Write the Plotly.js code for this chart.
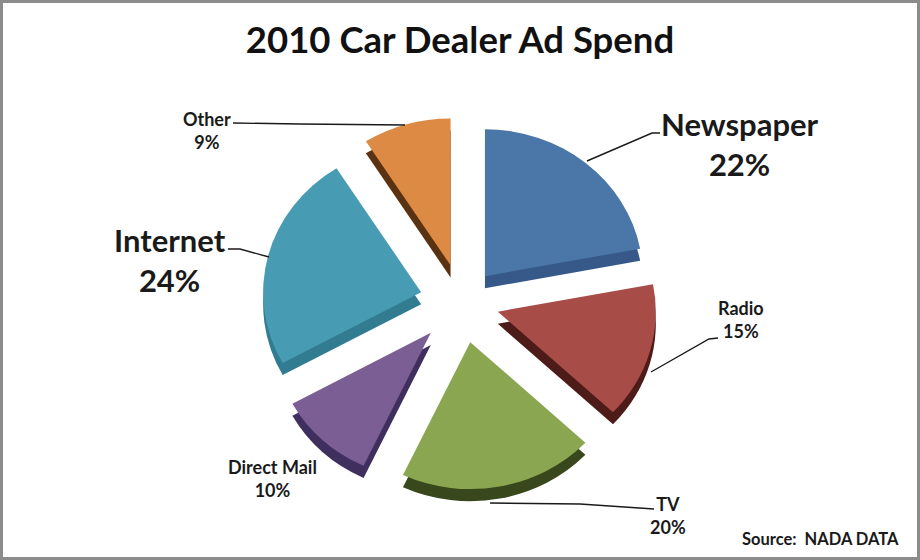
<!DOCTYPE html>
<html><head><meta charset="utf-8">
<script src="https://cdn.plot.ly/plotly-3.0.1.min.js"></script>
<style>html,body{margin:0;padding:0;background:#fff}#c{width:920px;height:560px}</style>
</head><body><div id="c"></div>
<script>
var categories=["Newspaper","Radio","TV","Direct Mail","Internet","Other"];
var shares=[22,15,20,10,24,9];
var topColors=["#4a76a8","#a84c48","#8aa650","#7a5e94","#479cb4","#dc8a44"];
var sideColors=["#36598a","#4d1b18","#38471c","#3f2f5e","#317c90","#5a3212"];
var explode=[0.228,0.236,0.278,0.288,0.267,0.26];
var labelSizes=[31,18,18,18,31,18];
var labelPos=[[740,144],[741,319],[668,515],[272,478],[170,260],[207,130]];
var leaders=[[[587,161],[652,133],[660,133]],[[651,372],[709,339],[718,338]],[[490,503],[580,504],[654,509]],
 null,[[269,257],[240,249],[228,249]],[[405,125],[300,124],[233,123]]];
var cx=462, cy=302, R=203.5, depth=13, squash=0.93;
function pie(colors,dy){
  var y0=560-(cy+dy+R), y1=560-(cy+dy-R);
  return {type:"pie",labels:categories,values:shares,sort:false,direction:"clockwise",rotation:0,
    pull:explode,textinfo:"none",hoverinfo:"label+percent",showlegend:false,
    marker:{colors:colors,line:{width:0}},
    domain:{x:[(cx-R)/920,(cx+R)/920],y:[y0/560,y1/560]}};
}
var font="Lato, 'Open Sans', sans-serif";
var annotations=categories.map(function(c,i){
  return {xref:"paper",yref:"paper",x:labelPos[i][0]/920,y:1-labelPos[i][1]/560,xanchor:"center",yanchor:"middle",
    showarrow:false,align:"center",text:"<b>"+c+"<br>"+shares[i]+"%</b>",
    font:{family:font,size:labelSizes[i],color:"#1a1a1a"}};
});
annotations.push({xref:"paper",yref:"paper",x:901/920,y:1-539/560,xanchor:"right",yanchor:"middle",showarrow:false,
  text:"<b>Source:  NADA DATA</b>",font:{family:font,size:16.5,color:"#1a1a1a"}});
var shapes=[{type:"rect",xref:"paper",yref:"paper",x0:0,x1:1,y0:0,y1:1,layer:"above",line:{color:"#8c8c8c",width:6},fillcolor:"rgba(0,0,0,0)"}];
leaders.forEach(function(l){
  if(!l)return;
  shapes.push({type:"path",xref:"paper",yref:"paper",
    path:l.map(function(q,k){return (k?"L":"M")+(q[0]/920)+","+(1-q[1]/560);}).join(""),
    layer:"above",line:{color:"#1a1a1a",width:1.4}});
});
var layout={width:920,height:560,margin:{l:0,r:0,t:0,b:0},paper_bgcolor:"#fff",
  title:{text:"<b>2010 Car Dealer Ad Spend</b>",x:0.5,xanchor:"center",y:1-40/560,yanchor:"middle",font:{family:font,size:36.5,color:"#111"}},
  annotations:annotations,shapes:shapes};
Plotly.newPlot("c",[pie(sideColors,depth),pie(topColors,0)],layout,{displayModeBar:false,staticPlot:true}).then(function(gd){
  var g=gd.querySelector(".pielayer");
  if(g)g.setAttribute("transform","translate(0,"+(cy*(1-squash))+") scale(1,"+squash+")");
});
</script></body></html>
